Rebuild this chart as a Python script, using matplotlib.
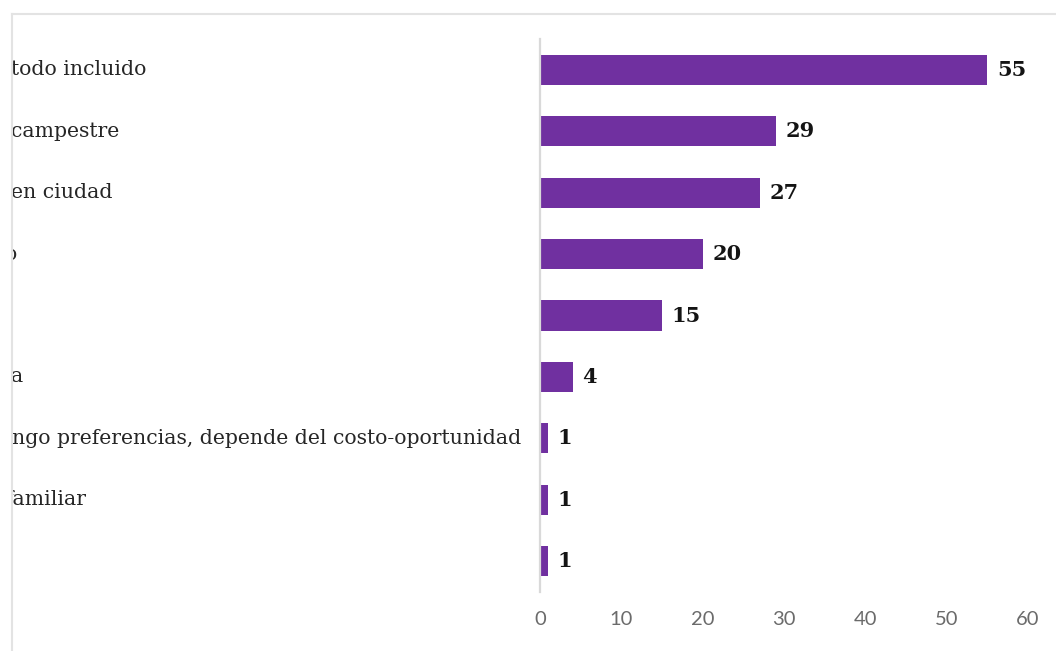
import matplotlib.pyplot as plt
import matplotlib.transforms as mtransforms
from matplotlib.lines import Line2D

# visible parts of the category names (the left side of the panel is cut off)
categories = [
    "todo incluido",
    "campestre",
    "en ciudad",
    "o",
    "",
    "a",
    "ngo preferencias, depende del costo-oportunidad",
    "familiar",
    "",
]
values = [55, 29, 27, 20, 15, 4, 1, 1, 1]
xticks = [0, 10, 20, 30, 40, 50, 60]

W, H = 1056, 651
fig = plt.figure(figsize=(W / 100, H / 100), dpi=100)
fig.patch.set_facecolor("white")

ax = fig.add_axes([540 / W, 1 - 592 / H, 488 / W, 553 / H])

pos = list(range(len(values)))
ax.barh(pos, values, height=0.49, color="#7030A0", zorder=2)
ax.set_ylim(len(values) - 0.5, -0.5)
ax.set_xlim(0, 60)

for p, v in zip(pos, values):
    ax.annotate(str(v), xy=(v, p), xytext=(7, 0), textcoords="offset points",
                ha="left", va="center", fontsize=15, fontweight="bold",
                family="DejaVu Serif", color="#141414")

ax.set_xticks(xticks)
ax.set_xticklabels([str(t) for t in xticks], family="Lato", fontsize=14.5,
                   color="#6b6b6b")
ax.tick_params(axis="x", length=0, pad=14)
ax.set_yticks([])
for side in ["top", "right", "bottom"]:
    ax.spines[side].set_visible(False)
ax.spines["left"].set_color("#d9d9d9")
ax.spines["left"].set_linewidth(1.6)

# category names, clipped at the left frame
trans = mtransforms.blended_transform_factory(fig.transFigure, ax.transData)
clip = mtransforms.TransformedBbox(
    mtransforms.Bbox([[11.5 / W, 0], [1, 1]]), fig.transFigure)
shift = {3: -6, 6: None, 7: -6}
for p, label in zip(pos, categories):
    if not label:
        continue
    s = shift.get(p, 0)
    if s is None:
        t = ax.text(521 / W, p, label, transform=trans, ha="right",
                    va="center")
    else:
        t = ax.text((11 + s) / W, p, label, transform=trans, ha="left",
                    va="center")
    t.set_fontsize(14.7)
    t.set_family("DejaVu Serif")
    t.set_color("#262626")
    t.set_clip_on(True)
    t.set_clip_box(clip)

# outer frame (top and left edges)
fig.add_artist(Line2D([12 / W, 1], [1 - 13.5 / H, 1 - 13.5 / H],
                      transform=fig.transFigure, color="#e3e3e3", lw=1.5))
fig.add_artist(Line2D([12 / W, 12 / W], [0, 1 - 13.5 / H],
                      transform=fig.transFigure, color="#e3e3e3", lw=1.5))

fig.savefig("out.png", dpi=100)
